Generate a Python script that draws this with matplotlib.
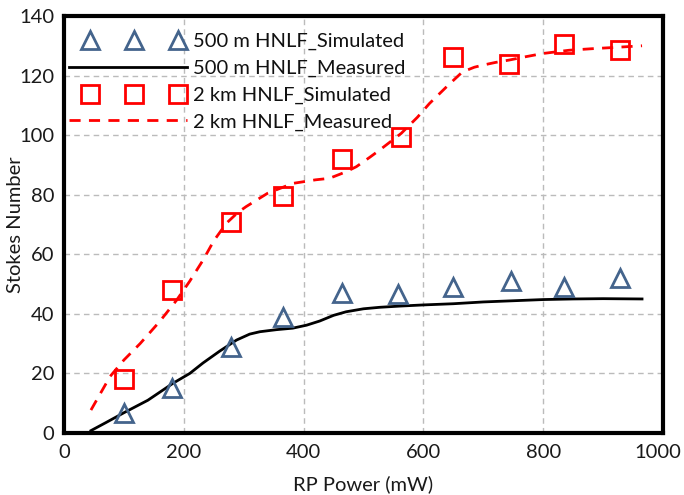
import matplotlib
matplotlib.use("Agg")
import numpy as np
import matplotlib.pyplot as plt
from matplotlib.legend_handler import HandlerLine2D
from matplotlib.transforms import ScaledTranslation

plt.rcParams['font.family'] = ['Lato', 'DejaVu Sans']

# Simulated (markers)
sim_x_500 = [100, 180, 278, 366, 464, 557, 650, 746, 835, 928]
sim_y_500 = [6.7, 15, 29, 39, 46.9, 46.5, 49, 51, 49, 52]
sim_x_2k = [100, 180, 278, 366, 464, 563, 650, 743, 835, 928]
sim_y_2k = [18, 48, 70.9, 79.5, 92, 99.4, 126.3, 123.8, 130.5, 128.5]

# Measured (lines)
meas_x_500 = [45, 70, 100, 140, 182, 210, 232, 260, 288, 310, 327, 355, 382, 405, 427,
              450, 471, 500, 527, 560, 600, 650, 700, 750, 800, 850, 900, 965]
meas_y_500 = [0.8, 3.5, 6.8, 11, 16.7, 20, 23.5, 27.5, 31.2, 33.2, 34, 34.7, 35.2, 36.2, 37.6,
              39.5, 40.7, 41.7, 42.2, 42.6, 43, 43.4, 44, 44.4, 44.8, 45, 45.1, 45]
meas_x_2k = [45, 60, 77, 100, 127, 160, 188, 210, 232, 250, 271, 290, 304, 340, 382, 420,
             443, 471, 488, 510, 527, 563, 590, 610, 640, 665, 685, 699, 720, 743, 770,
             799, 843, 880, 915, 965]
meas_y_2k = [7.7, 13, 19, 24.5, 30, 37.5, 44.6, 51, 58, 64.5, 70.4, 74, 76, 80.5, 83.8, 85,
             85.5, 87.7, 89.4, 92.5, 95, 100.6, 106, 110.6, 116.5, 121.2, 122.8, 123.5, 124.4,
             125.2, 126.3, 127.4, 128.5, 129, 129.4, 130]

labels = ['500 m HNLF_Simulated', '500 m HNLF_Measured',
          '2 km HNLF_Simulated', '2 km HNLF_Measured']
x_ticks = [0, 200, 400, 600, 800, 1000]
y_ticks = [0, 20, 40, 60, 80, 100, 120, 140]


class PaddedHandler(HandlerLine2D):
    def __init__(self, pad_left, pad_right, **kw):
        super().__init__(**kw)
        self.pad_left = pad_left
        self.pad_right = pad_right

    def get_xdata(self, legend, xdescent, ydescent, width, height, fontsize):
        n = self.get_numpoints(legend)
        xdata = np.linspace(-xdescent + self.pad_left,
                            -xdescent + width - self.pad_right, n)
        return xdata, xdata


fig = plt.figure(figsize=(6.84, 4.95), dpi=100)
ax = fig.add_axes([64/684, 62/495, (663-64)/684, (433-16)/495])

tri_color = '#44648C'
h1, = ax.plot(sim_x_500, sim_y_500, linestyle='none', marker='^', markersize=13,
              markerfacecolor='none', markeredgecolor=tri_color, markeredgewidth=2,
              label=labels[0], zorder=4)
h2, = ax.plot(meas_x_500, meas_y_500, color='black', linewidth=2, label=labels[1], zorder=3)
h3, = ax.plot(sim_x_2k, sim_y_2k, linestyle='none', marker='s', markersize=12.5,
              markerfacecolor='none', markeredgecolor='#FF0000', markeredgewidth=2,
              label=labels[2], zorder=4)
h4, = ax.plot(meas_x_2k, meas_y_2k, color='#FF0000', linewidth=2, linestyle=(0, (4, 3)),
              label=labels[3], zorder=3)

ax.set_xlim(0, 1000)
ax.set_ylim(0, 140)
ax.set_xticks(x_ticks)
ax.set_yticks(y_ticks)
ax.tick_params(axis='both', length=0, labelsize=14.5, colors='#1a1a1a')
ax.tick_params(axis='x', pad=8)
ax.tick_params(axis='y', pad=7)
ax.grid(True, color='#BBBBBB', linestyle=(0, (4, 3)), linewidth=1)
ax.set_axisbelow(True)
for s in ax.spines.values():
    s.set_linewidth(3)
    s.set_color('black')

last = ax.get_xticklabels()[-1]
last.set_transform(last.get_transform() + ScaledTranslation(-4/72, 0, fig.dpi_scale_trans))

ax.set_xlabel('RP Power (mW)', fontsize=14.5, labelpad=10, color='#1a1a1a')
ax.set_ylabel('Stokes Number', fontsize=14.5, color='#1a1a1a')
ax.yaxis.set_label_coords((24 - 64) / 599, 0.5)

marker_h = PaddedHandler(17.0, 6.5)
line_h = PaddedHandler(2.0, 0.0)
leg = ax.legend(loc='upper left', bbox_to_anchor=(0.004, 0.9595), frameon=False,
                fontsize=14.5, numpoints=3, handlelength=6.0, handletextpad=0.3,
                labelspacing=0.47, borderaxespad=0.0, borderpad=0.0,
                handler_map={h1: marker_h, h3: marker_h, h2: line_h, h4: line_h})
for t in leg.get_texts():
    t.set_color('#111111')

fig.savefig('out.png', dpi=100)
